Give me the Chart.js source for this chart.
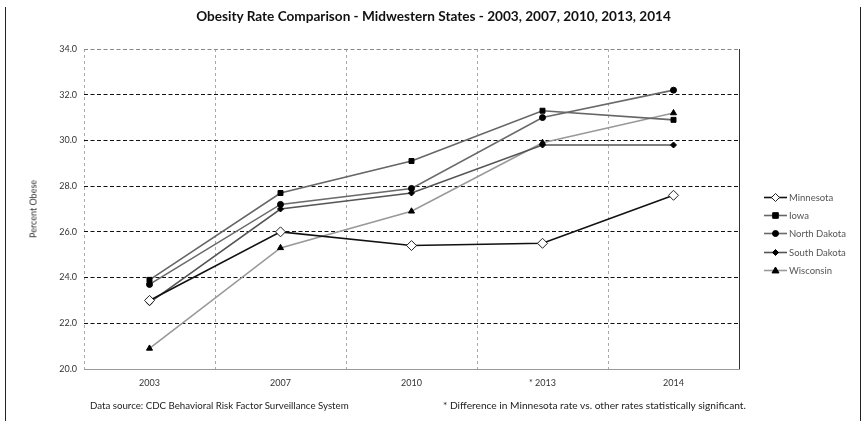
<!DOCTYPE html>
<html>
<head>
<meta charset="utf-8">
<script src="https://cdn.jsdelivr.net/npm/chart.js@4.4.1/dist/chart.umd.min.js"></script>
<style>
  html, body { margin: 0; padding: 0; background: #fff; }
  #wrap { position: relative; width: 867px; height: 421px; font-family: Lato, "Open Sans", sans-serif; }
  #frame { position: absolute; left: 5px; top: 7px; width: 856px; height: 414px;
           border-left: 1px solid #222; border-right: 1px solid #222; box-sizing: border-box; }
  #titulo { position: absolute; left: 0; width: 867px; top: 8px; text-align: center;
            font-weight: bold; font-size: 13.6px; color: #111; }
  #eixoY { position: absolute; left: 33px; top: 209px; transform: translate(-50%, -50%) rotate(-90deg);
           font-size: 9px; color: #333; white-space: nowrap; }
  .rodape { position: absolute; top: 399px; font-size: 10px; color: #222; white-space: nowrap; }
  #legenda { position: absolute; left: 764px; top: 188px; }
  .item { display: flex; align-items: center; height: 18.4px; font-size: 9.5px; color: #555; }
  .item canvas { margin-right: 2px; }
  #grafico { position: absolute; left: 0; top: 0; }
</style>
</head>
<body>
<div id="wrap">
  <div id="frame"></div>
  <canvas id="grafico" width="867" height="421"></canvas>
  <div id="titulo">Obesity Rate Comparison - Midwestern States - 2003, 2007, 2010, 2013, 2014</div>
  <div id="eixoY">Percent Obese</div>
  <div class="rodape" style="left:90px; font-size:9.7px">Data source: CDC Behavioral Risk Factor Surveillance System</div>
  <div class="rodape" style="left:443px; font-size:10.2px">* Difference in Minnesota rate vs. other rates statistically significant.</div>
  <div id="legenda"></div>
</div>
<script>
// Dados
const anos = ['2003', '2007', '2010', '* 2013', '2014'];
const minnesota = [23.0, 26.0, 25.4, 25.5, 27.6];
const iowa = [23.9, 27.7, 29.1, 31.3, 30.9];
const northDakota = [23.7, 27.2, 27.9, 31.0, 32.2];
const southDakota = [22.9, 27.0, 27.7, 29.8, 29.8];
const wisconsin = [20.9, 25.3, 26.9, 29.9, 31.2];
const yMin = 20, yMax = 34, yStep = 2;

// Moldura da área do gráfico (borda direita escura)
const molduraPlugin = {
    id: 'moldura',
    afterDatasetsDraw(chart) {
        const { ctx, chartArea } = chart;
        ctx.save();
        ctx.strokeStyle = '#333';
        ctx.lineWidth = 1;
        ctx.beginPath();
        ctx.moveTo(Math.round(chartArea.right) + 0.5, chartArea.top);
        ctx.lineTo(Math.round(chartArea.right) + 0.5, chartArea.bottom);
        ctx.stroke();
        ctx.restore();
    }
};

function serie(label, data, cor, estilo, raio, fundo, largura) {
    return {
        label: label,
        data: data,
        borderColor: cor,
        borderWidth: largura,
        pointStyle: estilo,
        pointRadius: raio,
        pointHoverRadius: raio,
        pointBackgroundColor: fundo,
        pointBorderColor: fundo === '#fff' ? '#222' : '#000',
        pointBorderWidth: 1,
        tension: 0
    };
}

const ctx = document.getElementById('grafico');
const chart = new Chart(ctx, {
    type: 'line',
    data: {
        labels: anos,
        datasets: [
            serie('Minnesota', minnesota, '#111', 'rectRot', 5, '#fff', 1.6),
            serie('Iowa', iowa, '#666', 'rect', 3.5, '#000', 1.6),
            serie('North Dakota', northDakota, '#6a6a6a', 'circle', 3, '#000', 1.6),
            serie('South Dakota', southDakota, '#555', 'rectRot', 3, '#000', 1.6),
            serie('Wisconsin', wisconsin, '#999', 'triangle', 3.5, '#000', 1.6)
        ]
    },
    options: {
        responsive: false,
        animation: false,
        devicePixelRatio: 1,
        layout: { padding: { left: 0, right: 128, top: 49, bottom: 0 } },
        plugins: {
            legend: { display: false },
            title: { display: false },
            tooltip: { enabled: false }
        },
        scales: {
            x: {
                offset: true,
                afterFit: (scale) => { scale.height = 52; },
                grid: {
                    offset: true,
                    drawTicks: false,
                    color: '#aaa',
                    lineWidth: 1
                },
                border: { display: true, color: '#999', width: 1, dash: [3, 3] },
                ticks: {
                    padding: 9,
                    color: '#333',
                    font: { family: 'Lato', size: 9 }
                }
            },
            y: {
                min: yMin,
                max: yMax,
                afterFit: (scale) => { scale.width = 84; },
                grid: {
                    drawTicks: false,
                    color: (c) => {
                        if (c.tick && c.tick.value === yMax) return '#888';
                        if (c.tick && c.tick.value === yMin) return 'rgba(0,0,0,0)';
                        return '#111';
                    },
                    lineWidth: 1
                },
                border: { display: false, dash: [4, 2.5] },
                ticks: {
                    stepSize: yStep,
                    padding: 7,
                    color: '#333',
                    font: { family: 'Lato', size: 9 },
                    callback: (v) => Number(v).toFixed(1)
                }
            }
        }
    },
    plugins: [molduraPlugin]
});

// Legenda em HTML montada a partir dos datasets
function desenharMarcador(c, ds) {
    const g = c.getContext('2d');
    const cy = 5.5;
    g.strokeStyle = ds.borderColor;
    g.lineWidth = 1.6;
    g.beginPath(); g.moveTo(0, cy); g.lineTo(c.width, cy); g.stroke();
    const cx = c.width / 2;
    const r = Math.min(ds.pointRadius, 4);
    g.fillStyle = ds.pointBackgroundColor;
    g.strokeStyle = ds.pointBorderColor;
    g.lineWidth = 1;
    g.beginPath();
    if (ds.pointStyle === 'rectRot') {
        g.moveTo(cx, cy - r); g.lineTo(cx + r, cy); g.lineTo(cx, cy + r); g.lineTo(cx - r, cy); g.closePath();
    } else if (ds.pointStyle === 'rect') {
        g.rect(cx - r * 0.8, cy - r * 0.8, r * 1.6, r * 1.6);
    } else if (ds.pointStyle === 'circle') {
        g.arc(cx, cy, r, 0, Math.PI * 2);
    } else if (ds.pointStyle === 'triangle') {
        g.moveTo(cx, cy - r); g.lineTo(cx + r, cy + r * 0.7); g.lineTo(cx - r, cy + r * 0.7); g.closePath();
    }
    g.fill(); g.stroke();
}

const legenda = document.getElementById('legenda');
chart.data.datasets.forEach(ds => {
    const item = document.createElement('div');
    item.className = 'item';
    const icone = document.createElement('canvas');
    icone.width = 23; icone.height = 11;
    desenharMarcador(icone, ds);
    const txt = document.createElement('span');
    txt.textContent = ds.label;
    item.appendChild(icone);
    item.appendChild(txt);
    legenda.appendChild(item);
});
</script>
</body>
</html>
